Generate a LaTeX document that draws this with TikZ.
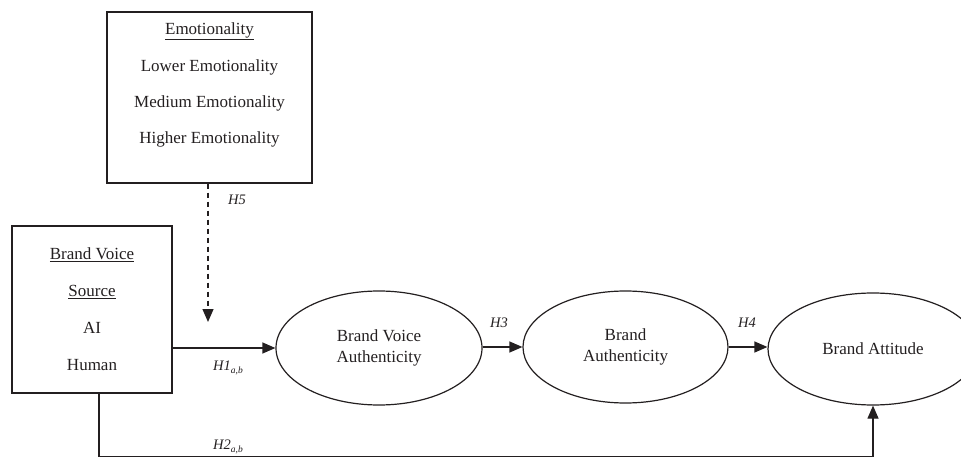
\documentclass[tikz,border=0pt]{standalone}
\usepackage{fontspec}
\setmainfont{Liberation Serif}
\usetikzlibrary{shapes.geometric,arrows.meta}
\definecolor{ink}{HTML}{231F20}
\begin{document}
\begin{tikzpicture}[x=1pt,y=-1pt,
  every node/.style={text=ink},
  boxline/.style={draw=ink,line width=1.4pt},
  oval/.style={ellipse,draw=ink,line width=1.2pt,inner sep=0pt,font=\fontsize{17}{20}\selectfont,align=center},
  txt/.style={font=\fontsize{17}{20}\selectfont,inner sep=0pt},
  hlabel/.style={font=\fontsize{14.5}{16}\selectfont\itshape,inner sep=0pt},
  conn/.style={draw=ink,line width=1.2pt,-{Triangle[length=13pt,width=11pt]}}]
\useasboundingbox (0,0) rectangle (961,457);
% Emotionality box
\node[boxline,minimum width=205pt,minimum height=171pt,inner sep=0pt] (emo) at (209.5,97.5) {};
\node[txt] (e0) at (209.5,31) {\underline{Emotionality}};
\node[txt] (e1) at (209.5,67) {Lower Emotionality};
\node[txt] (e2) at (209.5,103) {Medium Emotionality};
\node[txt] (e3) at (209.5,139) {Higher Emotionality};
% Source box
\node[boxline,minimum width=160pt,minimum height=167pt,inner sep=0pt] (src) at (92,309.5) {};
\node[txt] (s0) at (92,255) {\underline{Brand Voice}};
\node[txt] (s1) at (92,292) {\underline{Source}};
\node[txt] (s2) at (92,328) {AI};
\node[txt] (s3) at (92,365) {Human};
% Ellipses
\node[oval,minimum width=206pt,minimum height=114pt] (bva) at (379,348) {Brand Voice\\[1pt]Authenticity};
\node[oval,minimum width=205pt,minimum height=112pt] (ba) at (625.5,347) {Brand\\[1pt]Authenticity};
\node[oval,minimum width=210pt,minimum height=112pt] (att) at (873,349) {Brand Attitude};
% coordinates
\coordinate (dtop) at (208,183);
\coordinate (dend) at (208,322);
\coordinate (h1s) at (172,348);
\coordinate (bl) at (99,457);
\coordinate (br) at (873,457);
% connectors
\draw[conn,dashed,dash pattern=on 5pt off 4pt] (emo.south -| dtop) -- (dend);
\draw[conn] (h1s) -- (bva.west |- h1s);
\draw[conn] (bva.east |- ba.west) -- (ba.west);
\draw[conn] (ba.east) -- (ba.east -| att.west);
\draw[draw=ink,line width=2.2pt] (src.south -| bl) -- (bl);
\draw[draw=ink,line width=1.2pt] (bl) -- (br);
\draw[conn] (br) -- (att.south);
% labels
\node[hlabel,anchor=west] (l5) at (228,200) {H5};
\node[hlabel,anchor=west] (l1) at (213,368) {H1\textsubscript{\fontsize{9.5}{10}\selectfont a,b}};
\node[hlabel,anchor=west] (l2) at (213,447) {H2\textsubscript{\fontsize{9.5}{10}\selectfont a,b}};
\node[hlabel] (l3) at (499,323) {H3};
\node[hlabel] (l4) at (747,323) {H4};
\end{tikzpicture}
\end{document}
